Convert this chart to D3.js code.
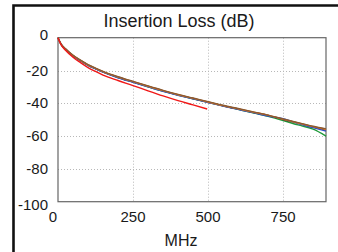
<!DOCTYPE html>
<html>
<head>
<meta charset="utf-8">
<script src="https://cdn.jsdelivr.net/npm/d3@7"></script>
<style>
  body { margin: 0; background: #fff; }
  svg { display: block; font-family: "Liberation Sans", Arial, sans-serif; }
</style>
</head>
<body>
<svg id="chart" width="338" height="252"></svg>
<script>
// data
let freqs = [0, 10, 25, 50, 75, 100, 125, 150, 200, 250, 300, 350, 400, 450, 500, 550, 600, 650, 700, 750, 800, 850, 893];
let greenVals  = [0, -4.0, -7.0, -11.0, -14.0, -16.8, -18.9, -20.9, -24.3, -27.1, -29.9, -32.6, -35.0, -37.2, -39.4, -41.6, -43.7, -45.8, -48.0, -50.5, -53.2, -55.8, -60.0];
let darkVals   = [0, -3.9, -6.9, -10.9, -13.9, -16.7, -18.8, -20.8, -24.1, -26.9, -29.7, -32.4, -34.9, -37.1, -39.3, -41.5, -43.5, -45.5, -47.4, -49.9, -52.1, -54.4, -56.4];
let blueVals   = [0, -4.0, -7.1, -11.0, -14.1, -16.9, -19.0, -21.0, -24.4, -27.2, -30.0, -32.7, -35.1, -37.3, -39.5, -41.7, -43.7, -45.7, -47.8, -49.4, -52.4, -54.8, -57.0];
let orangeVals = [0, -3.9, -6.9, -10.8, -13.8, -16.6, -18.7, -20.7, -24.0, -26.8, -29.6, -32.3, -34.8, -37.0, -39.2, -41.4, -43.4, -45.3, -47.2, -49.8, -52.0, -54.2, -56.0];
let brownVals  = [0, -3.8, -6.8, -10.7, -13.7, -16.4, -18.5, -20.5, -23.8, -26.6, -29.4, -32.1, -34.6, -36.8, -39.0, -41.2, -43.2, -45.2, -47.2, -49.6, -51.8, -54.0, -55.6];
let redFreqs = [0, 10, 25, 50, 75, 100, 125, 150, 200, 250, 300, 350, 400, 450, 497];
let redVals  = [0, -4.3, -7.6, -11.9, -15.2, -18.2, -20.6, -22.8, -26.1, -29.2, -32.4, -35.5, -38.4, -41.0, -43.5];
let xTicks = [0, 250, 500, 750];
let yTicks = [0, -20, -40, -60, -80, -100];

let svg = d3.select('#chart');

// outer frame (cut at right/bottom)
svg.append('path')
    .attr('d', 'M13.5,252 L13.5,5.5 L338,5.5')
    .attr('fill', 'none')
    .attr('stroke', '#111')
    .attr('stroke-width', 2.6);

let x = d3.scaleLinear().domain([0, 893]).range([58, 326]);
let y = d3.scaleLinear().domain([-100, 0]).range([201.7, 37.7]);

// grid
let grid = svg.append('g');
grid.selectAll('.vg')
    .data(xTicks.filter(d => d > 0))
    .join('line')
    .attr('x1', d => Math.round(x(d)) + 0.5).attr('x2', d => Math.round(x(d)) + 0.5)
    .attr('y1', y(0)).attr('y2', y(-100))
    .attr('stroke', '#b8b8b8').attr('stroke-dasharray', '1,2');
grid.selectAll('.hg')
    .data(yTicks.filter(d => d < 0 && d > -100))
    .join('line')
    .attr('y1', d => Math.round(y(d)) + 0.5).attr('y2', d => Math.round(y(d)) + 0.5)
    .attr('x1', x(0)).attr('x2', x(893))
    .attr('stroke', '#b8b8b8').attr('stroke-dasharray', '1,2');

// plot border
svg.append('rect')
    .attr('x', x(0)).attr('y', y(0))
    .attr('width', x(893) - x(0)).attr('height', y(-100) - y(0))
    .attr('fill', 'none').attr('stroke', '#666').attr('stroke-width', 1.2);

// curves
let line = d3.line()
    .x(d => x(d[0]))
    .y(d => y(d[1]))
    .curve(d3.curveMonotoneX);

let series = [
    {vals: greenVals, f: freqs, color: '#1f9a3a'},
    {vals: darkVals, f: freqs, color: '#2a2a3a'},
    {vals: blueVals, f: freqs, color: '#2d4fc4'},
    {vals: orangeVals, f: freqs, color: '#e0782a'},
    {vals: brownVals, f: freqs, color: '#8a5a32'},
    {vals: redVals, f: redFreqs, color: '#f01818'}
];

svg.append('g')
    .selectAll('path')
    .data(series)
    .join('path')
    .attr('d', s => line(s.f.map((f, i) => [f, s.vals[i]])))
    .attr('fill', 'none')
    .attr('stroke', s => s.color)
    .attr('stroke-width', 1.4);

// tick labels
svg.append('g')
    .selectAll('text')
    .data(yTicks)
    .join('text')
    .attr('x', 48)
    .attr('y', d => y(d) + 5 + (d == 0 ? -3 : 0) + (d == -100 ? 3 : 0))
    .attr('text-anchor', 'end')
    .attr('font-size', 15)
    .attr('fill', '#1a1a1a')
    .text(d => d);

svg.append('g')
    .selectAll('text')
    .data(xTicks)
    .join('text')
    .attr('x', d => x(d) - (d == 0 ? 5 : 0))
    .attr('y', 221.5)
    .attr('text-anchor', 'middle')
    .attr('font-size', 15)
    .attr('fill', '#1a1a1a')
    .text(d => d);

svg.append('text')
    .attr('x', 179).attr('y', 26.5)
    .attr('text-anchor', 'middle')
    .attr('font-size', 18)
    .attr('fill', '#1a1a1a')
    .text('Insertion Loss (dB)');

svg.append('text')
    .attr('x', 181).attr('y', 246)
    .attr('text-anchor', 'middle')
    .attr('font-size', 16)
    .attr('fill', '#1a1a1a')
    .text('MHz');
</script>
</body>
</html>
